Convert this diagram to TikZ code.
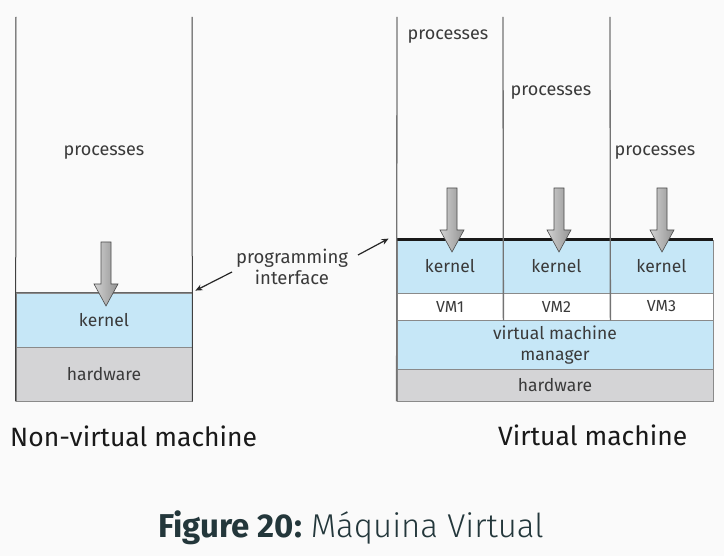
\documentclass[tikz,border=0pt]{standalone}
\usepackage{fontspec}
\setmainfont{Fira Sans}
\newfontfamily\firalight{Fira Sans Light}
\usetikzlibrary{arrows.meta}
\definecolor{bg}{HTML}{FAFAFA}
\definecolor{kblue}{HTML}{C6E7F7}
\definecolor{hwgray}{HTML}{D4D4D6}
\definecolor{txt}{HTML}{3A3A3A}
\definecolor{capc}{HTML}{23373B}
\definecolor{edge}{HTML}{8A8A8A}
\tikzset{
  layer/.style={draw=edge, line width=0.8pt, inner sep=0pt, text=txt, font=\fontsize{17.5}{21}\selectfont, align=center},
  kbox/.style={layer, fill=kblue},
  hbox/.style={layer, fill=hwgray},
  vbox/.style={layer, fill=white},
  lbl/.style={text=txt, font=\fontsize{18}{21}\selectfont, align=center, inner sep=0pt},
  wall/.style={line width=1pt, draw=black!75},
  rwall/.style={line width=1.3pt, draw=black!55},
  callarr/.style={-{Stealth[length=7pt,width=6pt]}, line width=1.2pt, draw=black!85},
  captxt/.style={inner sep=0pt, font=\fontsize{26.5}{28}\selectfont, text=black!90},
}
\newcommand{\callarrow}[3]{% cx, top, tip
  \shadedraw[left color=gray!35, right color=gray!85, draw=gray!60!black, line width=0.6pt]
    (#1-5,#2) -- (#1+5,#2) -- (#1+5,#3-22) -- (#1+12,#3-22) -- (#1,#3) -- (#1-12,#3-22) -- (#1-5,#3-22) -- cycle;}
\begin{document}
\begin{tikzpicture}[x=1pt,y=-1pt]
\fill[bg] (0,0) rectangle (724,556);
\useasboundingbox (0,0) rectangle (724,556);

% ---------- non-virtual machine ----------
\node[kbox, minimum width=176pt, minimum height=54pt] (k0) at (104,320) {kernel};
\node[hbox, minimum width=176pt, minimum height=54pt] (h0) at (104,374) {hardware};
\coordinate (l0t) at (16,17);
\coordinate (r0t) at (192,17);
\draw[wall] (l0t) -- (h0.south west);
\draw[wall] (r0t) -- (h0.south east);
\draw[line width=1.6pt, draw=black!60] (k0.north west) -- (k0.north east);
\node[lbl] (p0) at (104,153) {processes};
\callarrow{106}{242}{306}

% ---------- virtual machine ----------
\node[kbox, minimum width=106pt, minimum height=53pt] (k1) at (450,266.5) {kernel};
\node[kbox, minimum width=107pt, minimum height=53pt] (k2) at (556.5,266.5) {kernel};
\node[kbox, minimum width=103pt, minimum height=53pt] (k3) at (661.5,266.5) {kernel};
\node[vbox, minimum width=106pt, minimum height=27pt, font=\fontsize{16}{18}\selectfont] (v1) at (450,306.5) {VM1};
\node[vbox, minimum width=107pt, minimum height=27pt, font=\fontsize{16}{18}\selectfont] (v2) at (556.5,306.5) {VM2};
\node[vbox, minimum width=103pt, minimum height=27pt, font=\fontsize{16}{18}\selectfont] (v3) at (661.5,306.5) {VM3};
\node[kbox, minimum width=316pt, minimum height=49pt] (vmm) at (555,345) {virtual machine\\manager};
\node[hbox, minimum width=316pt, minimum height=32pt] (h1) at (555,385) {hardware};
\draw[line width=3pt, draw=black!90] (k1.north west) -- (k3.north east);
\coordinate (c0t) at (397,17);
\coordinate (c1t) at (503,17);
\coordinate (c2t) at (610,17);
\draw[rwall] (c0t) -- (h1.south west);
\draw[rwall] (c1t) -- (v1.south east);
\draw[rwall] (c2t) -- (v2.south east);
\node[lbl] (p1) at (448,37) {processes};
\node[lbl] (p2) at (551,93) {processes};
\node[lbl] (p3) at (655,153) {processes};
\callarrow{452}{188}{252}
\callarrow{559}{188}{252}
\callarrow{662}{188}{252}

% ---------- programming interface ----------
\node[lbl, font=\fontsize{18.5}{21}\selectfont] (pi) at (292,267) {programming\\interface};
\coordinate (pil) at (232,272);
\coordinate (pir) at (358,255);
\draw[callarr] (pil) -- ([xshift=3pt,yshift=2pt]k0.north east);
\draw[callarr] (pir) -- ([xshift=-8pt,yshift=1pt]k1.north west);

% ---------- captions ----------
\node[captxt, anchor=west] (c0) at (10,436) {Non-virtual machine};
\node[captxt, anchor=west] (c1) at (498,435) {Virtual machine};
\node[inner sep=0pt, font=\fontsize{33}{36}\selectfont, text=capc] (fig) at (351,528) {\textbf{Figure 20:}\ {\firalight Máquina Virtual}};
\end{tikzpicture}
\end{document}
